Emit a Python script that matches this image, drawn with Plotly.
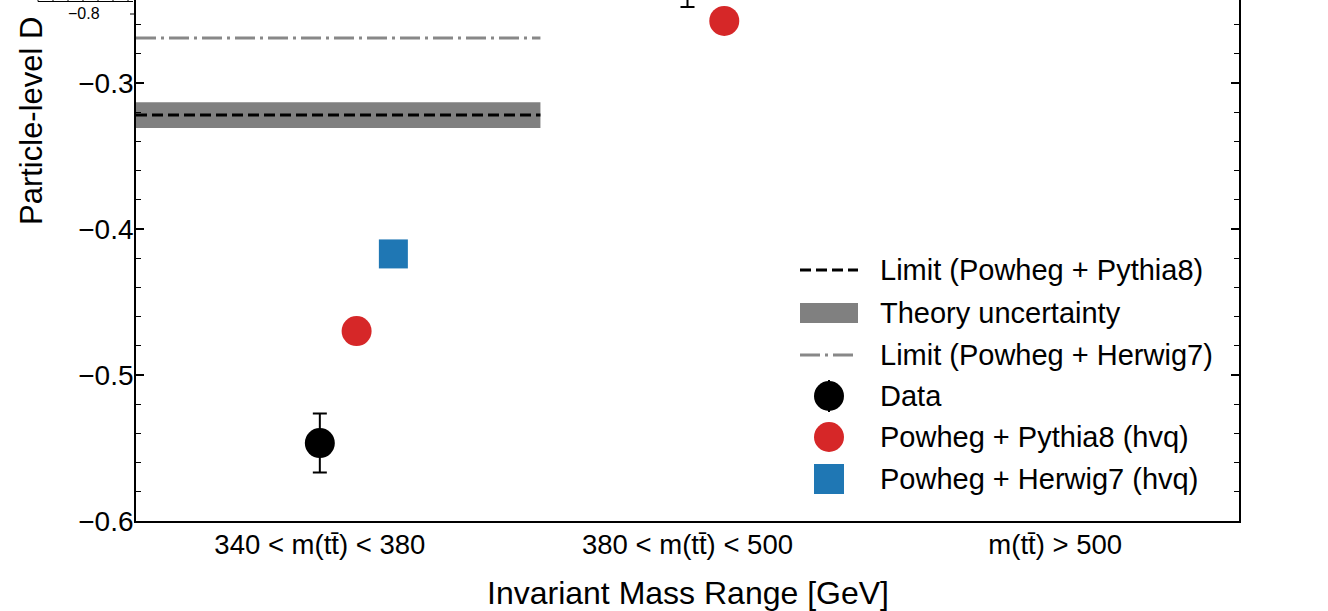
import plotly.graph_objects as go

# ---------------- data ----------------
categories = ["340 < m(tt\u0304) < 380", "380 < m(tt\u0304) < 500", "m(tt\u0304) > 500"]
cat_pos = [0, 1, 2]
offset_pythia = 0.1
offset_herwig = 0.2

data_values = [-0.5466, -0.227, -0.100]
data_errors = [0.0202, 0.021, 0.020]
pythia_values = [-0.4699, -0.2575, -0.120]
herwig_values = [-0.4171, -0.215, -0.110]

limit_x = [-0.5, 0.6]
limit_pythia = -0.3219
theory_band_low = -0.3308
theory_band_high = -0.3132
limit_herwig = -0.2692

y_range = [-0.6, -0.2432]
x_range = [-0.5, 2.5]

legend_labels = ["Limit (Powheg + Pythia8)", "Theory uncertainty", "Limit (Powheg + Herwig7)",
                 "Data", "Powheg + Pythia8 (hvq)", "Powheg + Herwig7 (hvq)"]

RED = "#d62728"
BLUE = "#1f77b4"
GRAY = "#808080"
DDGRAY = "#888888"
FONT = "Liberation Sans, Arial, Helvetica, sans-serif"

W, H = 1328, 611
ML, MR, MT, MB = 136, 89, 0, 90
PW, PH = W - ML - MR, H - MT - MB


def px(x):
    return (x - ML) / PW


def py(y):
    return (MT + PH - y) / PH


fig = go.Figure()

# theory band
fig.add_trace(go.Scatter(
    x=[limit_x[0], limit_x[1], limit_x[1], limit_x[0], limit_x[0]],
    y=[theory_band_low, theory_band_low, theory_band_high, theory_band_high, theory_band_low],
    fill="toself", fillcolor=GRAY, line=dict(width=0), mode="lines",
    hoverinfo="skip", showlegend=False))
# limit lines
fig.add_trace(go.Scatter(x=limit_x, y=[limit_pythia] * 2, mode="lines",
                         line=dict(color="black", width=3, dash="11px,5px"), showlegend=False))
fig.add_trace(go.Scatter(x=limit_x, y=[limit_herwig] * 2, mode="lines",
                         line=dict(color=DDGRAY, width=3, dash="20px,5px,3px,5px"), showlegend=False))

# points
fig.add_trace(go.Scatter(
    x=cat_pos, y=data_values, mode="markers",
    marker=dict(color="black", size=30, symbol="circle"),
    error_y=dict(type="data", array=data_errors, color="black", thickness=2, width=7),
    showlegend=False))
fig.add_trace(go.Scatter(
    x=[c + offset_pythia for c in cat_pos], y=pythia_values, mode="markers",
    marker=dict(color=RED, size=30, symbol="circle"), showlegend=False))
fig.add_trace(go.Scatter(
    x=[c + offset_herwig for c in cat_pos], y=herwig_values, mode="markers",
    marker=dict(color=BLUE, size=29, symbol="square"), showlegend=False))

shapes = []
annotations = []

# ---- manual legend ----
row_y = [270, 313, 355, 396, 437, 479]
sx0, sx1, scx = 800, 858, 829
shapes.append(dict(type="line", xref="paper", yref="paper", x0=px(sx0), x1=px(sx1),
                   y0=py(row_y[0]), y1=py(row_y[0]), line=dict(color="black", width=3, dash="11px,5px")))
shapes.append(dict(type="rect", xref="paper", yref="paper", x0=px(sx0), x1=px(sx1),
                   y0=py(row_y[1] - 10), y1=py(row_y[1] + 10), fillcolor=GRAY, line=dict(width=0)))
shapes.append(dict(type="line", xref="paper", yref="paper", x0=px(sx0), x1=px(sx1),
                   y0=py(row_y[2]), y1=py(row_y[2]), line=dict(color=DDGRAY, width=3, dash="20px,5px,3px,5px")))
shapes.append(dict(type="line", xref="paper", yref="paper", x0=px(scx), x1=px(scx),
                   y0=py(row_y[3] - 16), y1=py(row_y[3] + 16), line=dict(color="black", width=2)))
shapes.append(dict(type="circle", xref="paper", yref="paper", x0=px(scx - 15), x1=px(scx + 15),
                   y0=py(row_y[3] - 15), y1=py(row_y[3] + 15), fillcolor="black", line=dict(width=0)))
shapes.append(dict(type="circle", xref="paper", yref="paper", x0=px(scx - 15), x1=px(scx + 15),
                   y0=py(row_y[4] - 15), y1=py(row_y[4] + 15), fillcolor=RED, line=dict(width=0)))
shapes.append(dict(type="rect", xref="paper", yref="paper", x0=px(scx - 15), x1=px(scx + 15),
                   y0=py(row_y[5] - 15), y1=py(row_y[5] + 15), fillcolor=BLUE, line=dict(width=0)))
for lab, ry in zip(legend_labels, row_y):
    annotations.append(dict(text=lab, xref="paper", yref="paper", x=px(878), y=py(ry),
                            xanchor="left", yanchor="middle", showarrow=False,
                            font=dict(family=FONT, size=29, color="black")))

# ---- partial inset at top-left (cropped) ----
shapes.append(dict(type="line", xref="paper", yref="paper", x0=px(38), x1=px(133),
                   y0=py(1.5), y1=py(1.5), line=dict(color="black", width=1.2)))
for tx in range(38, 134, 15):
    shapes.append(dict(type="line", xref="paper", yref="paper", x0=px(tx), x1=px(tx),
                       y0=py(1.5), y1=py(-3), line=dict(color="black", width=1)))
shapes.append(dict(type="line", xref="paper", yref="paper", x0=px(130), x1=px(136),
                   y0=py(14), y1=py(14), line=dict(color="black", width=1)))
annotations.append(dict(text="\u22120.8", xref="paper", yref="paper", x=px(84), y=py(14),
                        xanchor="center", yanchor="middle", showarrow=False,
                        font=dict(family=FONT, size=16, color="black")))

# ---- axis titles ----
annotations.append(dict(text="Particle-level D", xref="paper", yref="paper", x=px(31), y=py(121),
                        xanchor="center", yanchor="middle", textangle=-90, showarrow=False,
                        font=dict(family=FONT, size=31, color="black")))
annotations.append(dict(text="Invariant Mass Range [GeV]", xref="paper", yref="paper",
                        x=px(687.5), y=py(593), xanchor="center", yanchor="middle", showarrow=False,
                        font=dict(family=FONT, size=32, color="black")))

fig.update_layout(
    width=W, height=H,
    margin=dict(l=ML, r=MR, t=MT, b=MB, pad=0),
    paper_bgcolor="white", plot_bgcolor="white",
    showlegend=False,
    font=dict(family=FONT, size=27, color="black"),
    shapes=shapes, annotations=annotations,
    xaxis=dict(range=x_range, tickvals=cat_pos, ticktext=categories, ticks="",
               showline=True, linecolor="black", linewidth=1.8, mirror=False,
               showgrid=False, zeroline=False, ticklabelstandoff=-2,
               tickfont=dict(family=FONT, size=27.5, color="black")),
    yaxis=dict(range=y_range, dtick=0.1, tick0=-0.6, tickformat=".1f",
               ticks="inside", ticklen=8, tickwidth=1.5, tickcolor="black",
               showline=True, linecolor="black", linewidth=1.8, mirror="allticks",
               showgrid=False, zeroline=False, ticklabelstandoff=-5,
               tickfont=dict(family=FONT, size=28, color="black")),
)
fig.update_yaxes(minor=dict(dtick=0.02, tick0=-0.6, ticks="inside", ticklen=5,
                            tickwidth=1.2, tickcolor="black", showgrid=False))

fig.write_html("out.html")
